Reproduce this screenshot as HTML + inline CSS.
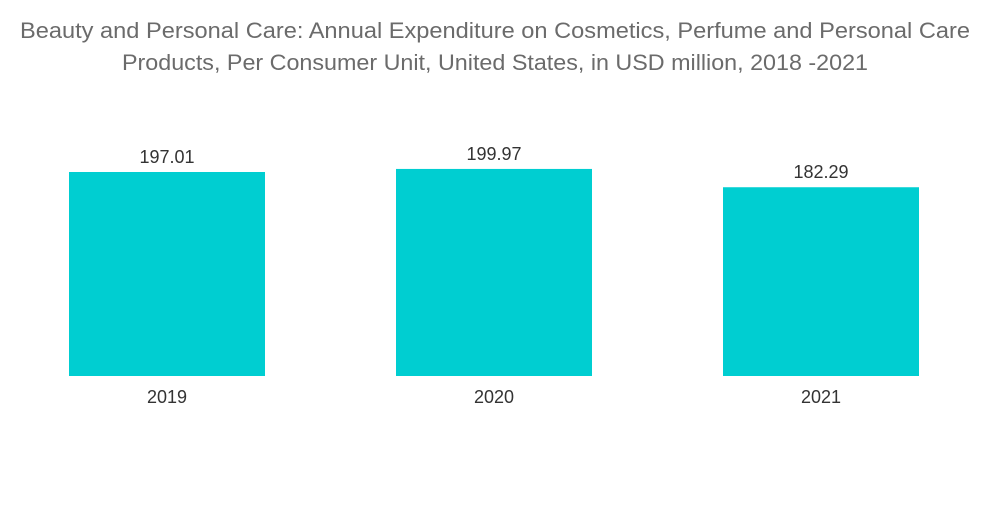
<!DOCTYPE html>
<html><head><meta charset="utf-8"><style>
body{margin:0;background:#fff;width:1000px;height:504px;overflow:hidden;font-family:"Liberation Sans",sans-serif}
</style></head><body>
<svg id="chart" width="1000" height="504" xmlns="http://www.w3.org/2000/svg">
<text x="20" y="38" textLength="950" lengthAdjust="spacingAndGlyphs" font-size="22" fill="#6b6b6b" font-family="Liberation Sans, sans-serif">Beauty and Personal Care: Annual Expenditure on Cosmetics, Perfume and Personal Care</text>
<text x="122" y="70" textLength="746" lengthAdjust="spacingAndGlyphs" font-size="22" fill="#6b6b6b" font-family="Liberation Sans, sans-serif">Products, Per Consumer Unit, United States, in USD million, 2018 -2021</text>
<g id="bars"></g>
</svg>
<script>
const categories=["2019","2020","2021"];
const values=[197.01,199.97,182.29];
const labels=["197.01","199.97","182.29"];
const baseY=376, k=1.0355, x0=69, step=327, bw=196;
const yScale=v=>baseY-v*k;
const xScale=i=>x0+i*step;
const g=document.getElementById('bars');
const ns="http://www.w3.org/2000/svg";
categories.forEach((c,i)=>{
  const r=document.createElementNS(ns,'rect');
  
  
  r.setAttribute('x',xScale(i));r.setAttribute('y',yScale(values[i]));
  r.setAttribute('width',bw);r.setAttribute('height',baseY-yScale(values[i]));
  r.setAttribute('fill','#00ced1');g.appendChild(r);
  const t=document.createElementNS(ns,'text');
  
  
  t.setAttribute('x',xScale(i)+bw/2);t.setAttribute('y',yScale(values[i])-9);
  t.setAttribute('text-anchor','middle');t.setAttribute('font-size','18');t.setAttribute('fill','#333');
  t.textContent=labels[i];g.appendChild(t);
  const a=document.createElementNS(ns,'text');
  
  
  a.setAttribute('x',xScale(i)+bw/2);a.setAttribute('y',403);
  a.setAttribute('text-anchor','middle');a.setAttribute('font-size','18');a.setAttribute('fill','#333');
  a.textContent=c;g.appendChild(a);
});
</script>
</body></html>
